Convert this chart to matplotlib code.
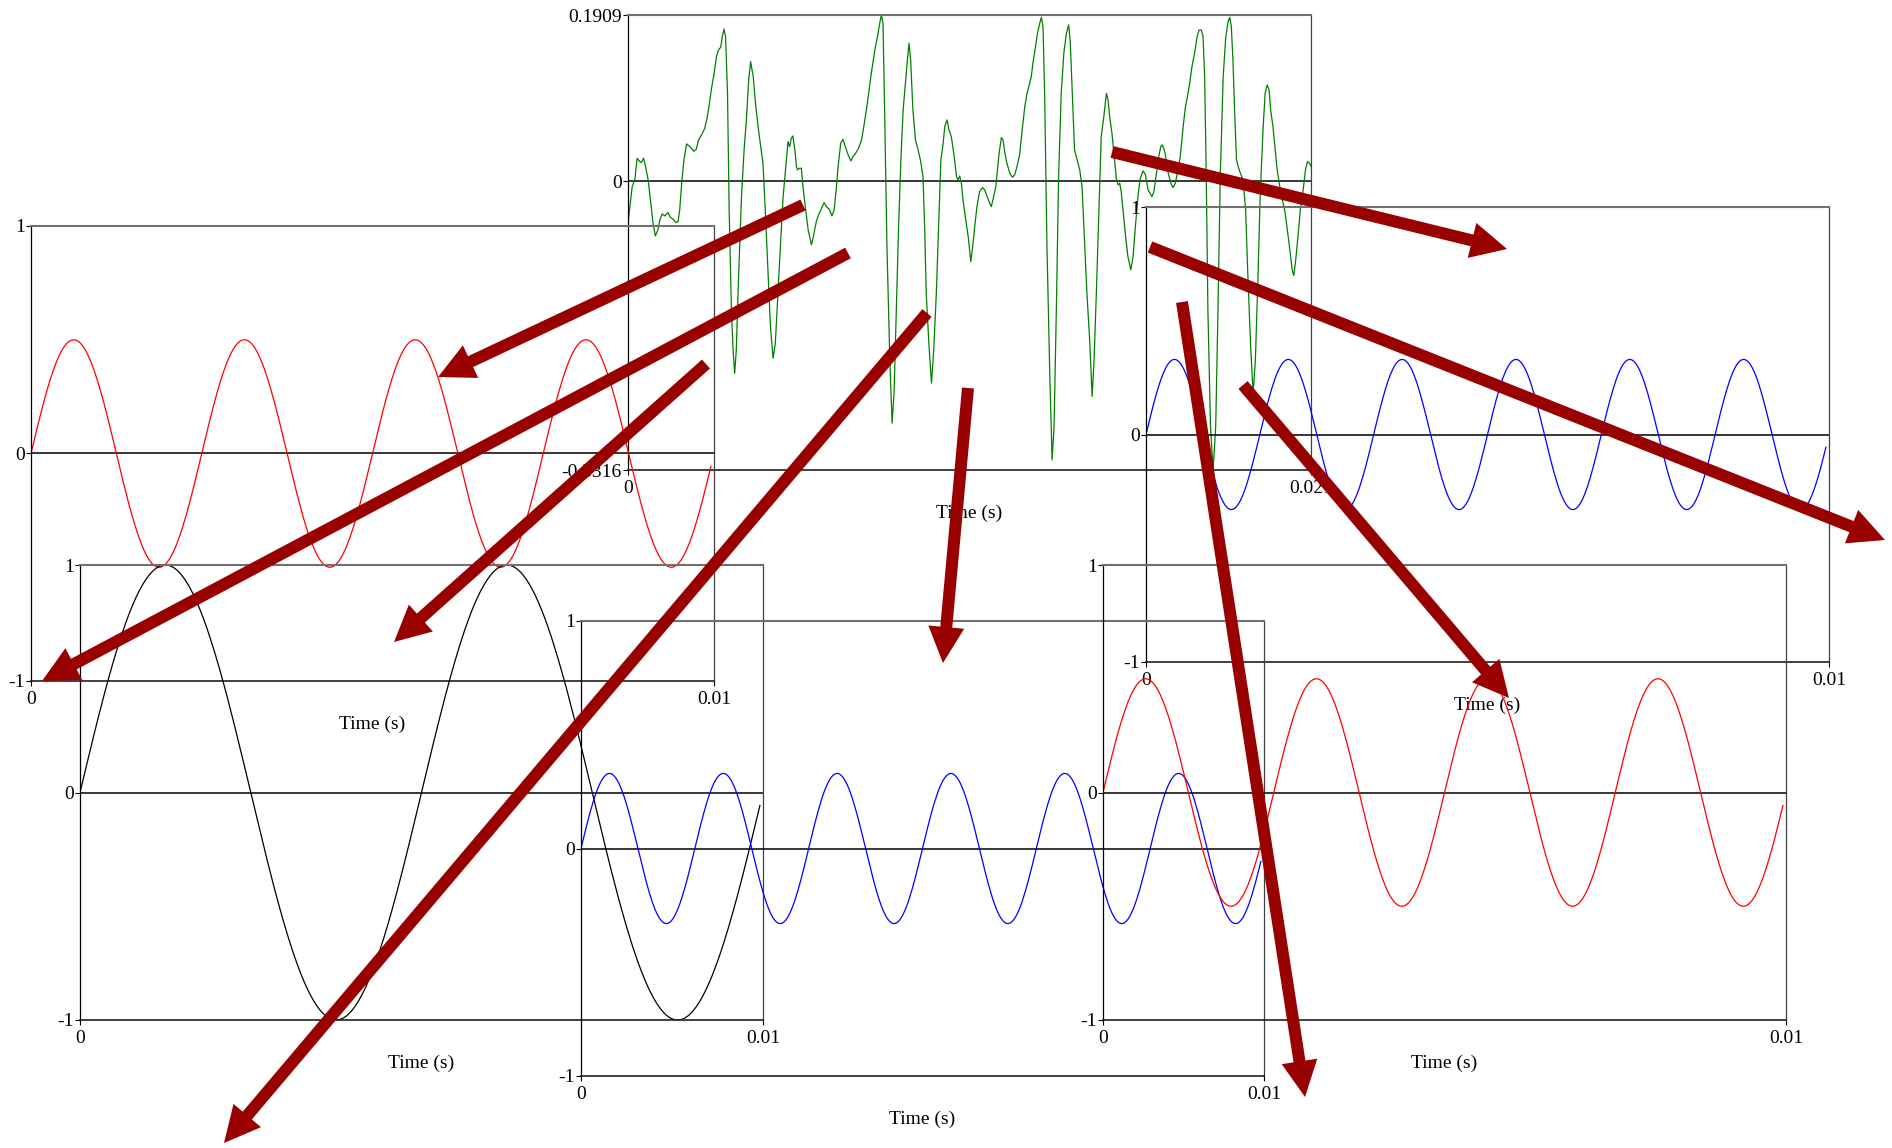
import numpy as np
import matplotlib.pyplot as plt
from matplotlib.patches import FancyArrow

plt.rcParams['font.family'] = ['Liberation Serif', 'DejaVu Serif']
plt.rcParams['font.size'] = 14
plt.rcParams['axes.unicode_minus'] = False

green_t_ms = [
    0.00, 0.13, 0.21, 0.28, 0.36, 0.41, 0.48, 0.54, 0.62, 0.69,
    0.77, 0.84, 0.92, 0.98, 1.05, 1.13, 1.23, 1.30, 1.39, 1.47,
    1.54, 1.59, 1.65, 1.72, 1.80, 1.90, 2.02, 2.10, 2.17, 2.26,
    2.36, 2.44, 2.49, 2.56, 2.64, 2.72, 2.78, 2.85, 2.90, 2.95,
    3.00, 3.06, 3.11, 3.18, 3.23, 3.28, 3.33, 3.40, 3.49, 3.57,
    3.64, 3.71, 3.77, 3.85, 3.92, 4.00, 4.08, 4.15, 4.22, 4.31,
    4.38, 4.46, 4.53, 4.61, 4.69, 4.77, 4.85, 4.92, 4.97, 5.02,
    5.07, 5.13, 5.18, 5.21, 5.27, 5.33, 5.38, 5.45, 5.54, 5.64,
    5.72, 5.79, 5.86, 5.95, 6.03, 6.10, 6.20, 6.27, 6.34, 6.41,
    6.46, 6.54, 6.61, 6.68, 6.77, 6.85, 6.92, 7.00, 7.09, 7.18,
    7.25, 7.33, 7.40, 7.48, 7.59, 7.67, 7.74, 7.79, 7.84, 7.89,
    7.96, 8.05, 8.12, 8.18, 8.25, 8.32, 8.39, 8.46, 8.53, 8.59,
    8.64, 8.69, 8.76, 8.84, 8.92, 9.00, 9.07, 9.12, 9.17, 9.25,
    9.33, 9.40, 9.48, 9.55, 9.62, 9.69, 9.74, 9.81, 9.87, 9.94,
    10.03, 10.10, 10.15, 10.20, 10.25, 10.30, 10.37, 10.46, 10.54, 10.61,
    10.66, 10.73, 10.81, 10.90, 10.97, 11.04, 11.12, 11.17, 11.22, 11.31,
    11.36, 11.41, 11.48, 11.53, 11.59, 11.65, 11.74, 11.82, 11.89, 11.96,
    12.04, 12.12, 12.20, 12.27, 12.35, 12.40, 12.45, 12.53, 12.59, 12.66,
    12.71, 12.76, 12.81, 12.88, 12.97, 13.04, 13.10, 13.17, 13.24, 13.32,
    13.40, 13.48, 13.55, 13.60, 13.66, 13.73, 13.81, 13.89, 13.96, 14.04,
    14.11, 14.20, 14.27, 14.33, 14.40, 14.48, 14.55, 14.63, 14.71, 14.76,
    14.81, 14.88, 14.94, 15.02, 15.07, 15.12, 15.17, 15.24, 15.30, 15.37,
    15.46, 15.53, 15.60, 15.68, 15.75, 15.84, 15.91, 15.99, 16.11, 16.17,
    16.25, 16.32, 16.38, 16.43, 16.49, 16.55, 16.61, 16.69, 16.76, 16.83,
    16.91, 16.98, 17.07, 17.14, 17.20, 17.27, 17.34, 17.42, 17.50, 17.56,
    17.63, 17.68, 17.73, 17.78, 17.83, 17.91, 17.99, 18.07, 18.14, 18.21,
    18.30, 18.38, 18.45, 18.50, 18.55, 18.60, 18.65, 18.71, 18.76, 18.83,
    18.91, 18.99, 19.06, 19.14, 19.22, 19.29, 19.37, 19.44, 19.53, 19.59,
    19.65, 19.71, 19.76, 19.83, 19.88, 19.96, 20.04, 20.12, 20.19, 20.26,
    20.35, 20.42, 20.47, 20.53, 20.60, 20.67, 20.76, 20.83, 20.89, 20.96, 21.00,
]
green_v = [
    -0.0482, -0.0060, 0.0015, 0.0264, 0.0226, 0.0214, 0.0264, 0.0168, 0.0015, -0.0214,
    -0.0482, -0.0628, -0.0559, -0.0444, -0.0375, -0.0398, -0.0360, -0.0413, -0.0436, -0.0475,
    -0.0463, -0.0329, -0.0023, 0.0245, 0.0429, 0.0398, 0.0344, 0.0367, 0.0474, 0.0532,
    0.0608, 0.0742, 0.0857, 0.1049, 0.1221, 0.1431, 0.1508, 0.1538, 0.1661, 0.1749,
    0.1661, 0.1010, -0.0329, -0.1477, -0.1937, -0.2205, -0.1937, -0.1095, -0.0176, 0.0360,
    0.0704, 0.1163, 0.1374, 0.1202, 0.0895, 0.0628, 0.0398, 0.0207, -0.0329, -0.1095,
    -0.1669, -0.2032, -0.1860, -0.1286, -0.0712, -0.0176, 0.0168, 0.0455, 0.0398, 0.0494,
    0.0520, 0.0360, 0.0168, 0.0130, 0.0149, 0.0149, -0.0061, -0.0291, -0.0559, -0.0731,
    -0.0597, -0.0463, -0.0387, -0.0310, -0.0245, -0.0291, -0.0329, -0.0398, -0.0329, -0.0061,
    0.0168, 0.0436, 0.0482, 0.0398, 0.0302, 0.0233, 0.0283, 0.0321, 0.0379, 0.0474,
    0.0628, 0.0819, 0.1010, 0.1240, 0.1508, 0.1661, 0.1814, 0.1909, 0.1814, 0.0819,
    -0.0712, -0.2051, -0.2778, -0.2434, -0.1477, -0.0521, 0.0245, 0.0819, 0.1125, 0.1393,
    0.1584, 0.1393, 0.0819, 0.0474, 0.0360, 0.0226, 0.0053, -0.0521, -0.1286, -0.1860,
    -0.2319, -0.1937, -0.1286, -0.0521, 0.0245, 0.0436, 0.0628, 0.0704, 0.0589, 0.0513,
    0.0283, 0.0053, 0.0015, 0.0061, -0.0023, -0.0214, -0.0406, -0.0635, -0.0922, -0.0712,
    -0.0521, -0.0291, -0.0119, -0.0073, -0.0100, -0.0176, -0.0253, -0.0291, -0.0214, -0.0061,
    0.0130, 0.0321, 0.0501, 0.0474, 0.0321, 0.0207, 0.0092, 0.0046, 0.0073, 0.0168,
    0.0302, 0.0589, 0.0857, 0.1010, 0.1125, 0.1202, 0.1355, 0.1546, 0.1699, 0.1814,
    0.1883, 0.1776, 0.1010, -0.0712, -0.2243, -0.3200, -0.2817, -0.1477, 0.0053, 0.1010,
    0.1469, 0.1699, 0.1795, 0.1584, 0.1010, 0.0360, 0.0245, 0.0130, -0.0061, -0.0712,
    -0.1286, -0.1860, -0.2472, -0.2051, -0.1286, -0.0329, 0.0513, 0.0742, 0.1010, 0.0934,
    0.0742, 0.0551, 0.0321, 0.0015, -0.0042, -0.0023, -0.0138, -0.0406, -0.0635, -0.0865,
    -0.1018, -0.0865, -0.0521, -0.0176, 0.0034, 0.0119, 0.0073, -0.0100, -0.0176, -0.0119,
    0.0092, 0.0283, 0.0398, 0.0417, 0.0360, 0.0245, 0.0092, -0.0023, -0.0073, -0.0023,
    0.0130, 0.0283, 0.0628, 0.0857, 0.0972, 0.1125, 0.1316, 0.1469, 0.1661, 0.1737,
    0.1737, 0.1661, 0.1202, 0.0053, -0.1477, -0.2817, -0.3316, -0.2817, -0.1477, 0.0053,
    0.1202, 0.1661, 0.1833, 0.1883, 0.1776, 0.1393, 0.0819, 0.0245, 0.0168, 0.0092,
    0.0015, -0.0329, -0.1095, -0.1860, -0.2434, -0.2051, -0.1095, -0.0138, 0.0628, 0.1010,
    0.1106, 0.1049, 0.0819, 0.0628, 0.0436, 0.0130, -0.0061, -0.0214, -0.0329, -0.0521,
    -0.0788, -0.1018, -0.1083, -0.0903, -0.0635, -0.0329, -0.0100, 0.0130, 0.0226, 0.0207, 0.0168,
]
green_ticks = [0.1909, 0, -0.3316]
green_tick_labels = ['0.1909', '0', '-0.3316']

# sine components shown in the small panels
sine_freq = [400, 600, 200, 600, 400]      # Hz
sine_amp = [0.5, 0.33, 1.0, 0.33, 0.5]
sine_color = ['red', 'blue', 'black', 'blue', 'red']
sine_end = 0.00996                          # last sample time (s)
fs = 44100

# layout in pixels
W, H = 1892, 1148
PW, PH = 683, 455
green_box = (628, 15)
sine_boxes = [(31, 226), (1146, 207), (80, 565), (581, 621), (1103, 565)]

# arrows tail -> tip, pixels
arrows = [
    ((803, 205), (438, 377)),
    ((848, 253), (42, 681)),
    ((706, 364), (394, 642)),
    ((927, 313), (224, 1143)),
    ((968, 388), (943, 663)),
    ((1112, 152), (1507, 249)),
    ((1150, 247), (1885, 540)),
    ((1182, 302), (1305, 1097)),
    ((1243, 385), (1509, 698)),
]

fig = plt.figure(figsize=(W / 100, H / 100), dpi=100)


def panel(box, xmax, ymin, ymax, yticks, yticklabels, xticklabels):
    x0, y0 = box
    ax = fig.add_axes([x0 / W, 1 - (y0 + PH) / H, PW / W, PH / H])
    ax.patch.set_visible(False)
    ax.set_xlim(0, xmax)
    ax.set_ylim(ymin, ymax)
    ax.axhline(0, color='black', lw=1.1, zorder=1)
    ax.spines['left'].set_color('black')
    ax.spines['left'].set_linewidth(0.9)
    ax.spines['bottom'].set_color('#202020')
    ax.spines['bottom'].set_linewidth(1.2)
    ax.spines['top'].set_color('#707070')
    ax.spines['top'].set_linewidth(1.5)
    ax.spines['right'].set_color('#404040')
    ax.spines['right'].set_linewidth(0.9)
    ax.set_yticks(yticks)
    ax.set_yticklabels(yticklabels)
    ax.set_xticks([0, xmax])
    ax.set_xticklabels(xticklabels)
    ax.tick_params(axis='both', direction='out', length=3.5, width=0.8,
                   pad=1, labelsize=14, colors='black')
    ax.tick_params(axis='x', pad=4)
    ax.set_xlabel('Time (s)', fontsize=14, labelpad=5)
    return ax


ax = panel(green_box, 0.021, -0.3316, 0.1909, green_ticks, green_tick_labels,
           ['0', '0.021'])
ax.plot(np.array(green_t_ms) / 1000, green_v, color='green', lw=0.9)

for box, f, a, c in zip(sine_boxes, sine_freq, sine_amp, sine_color):
    ax = panel(box, 0.01, -1, 1, [1, 0, -1], ['1', '0', '-1'], ['0', '0.01'])
    t = np.arange(0, sine_end, 1 / fs)
    ax.plot(t, a * np.sin(2 * np.pi * f * t), color=c, lw=0.9)

# arrows on top, drawn in pixel space
ov = fig.add_axes([0, 0, 1, 1])
ov.set_xlim(0, W)
ov.set_ylim(H, 0)
ov.axis('off')
ov.patch.set_visible(False)
for (x1, y1), (x2, y2) in arrows:
    ov.add_patch(FancyArrow(x1, y1, x2 - x1, y2 - y1, width=12, head_width=36,
                            head_length=36, length_includes_head=True,
                            color='#990000', lw=0))

fig.savefig('out.png', dpi=100, facecolor='white')
